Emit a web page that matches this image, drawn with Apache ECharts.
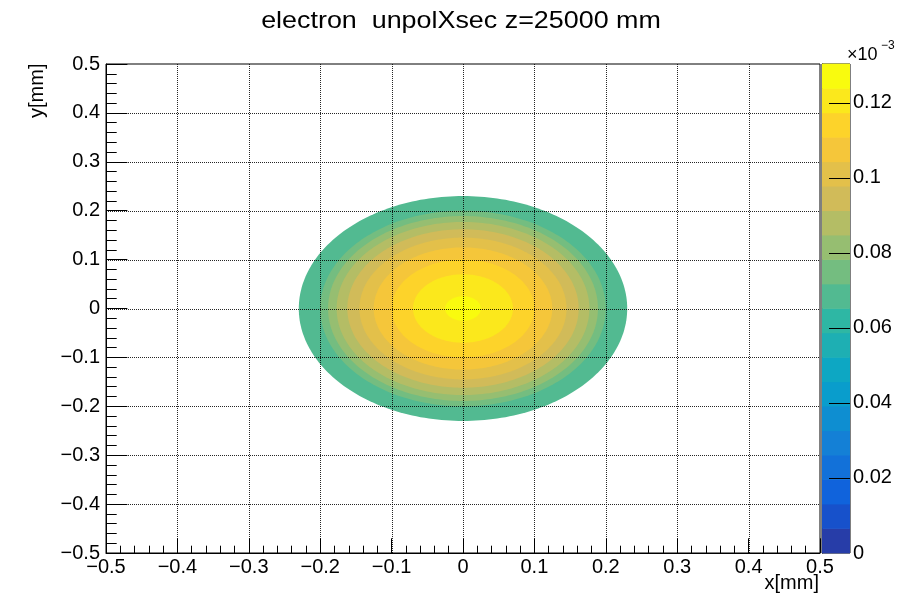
<!DOCTYPE html>
<html>
<head>
<meta charset="utf-8">
<script src="https://cdn.jsdelivr.net/npm/echarts@6/dist/echarts.min.js"></script>
<style>
  html, body { margin: 0; padding: 0; background: #fff; }
  #chart { width: 917px; height: 598px; }
</style>
</head>
<body>
<div id="chart"></div>
<script>
// Beam spot: concentric contour levels of the unpolarized cross section (units of 1e-3),
// each level a disk of the given radius in mm, outermost first.
const ringRadius = [0.230, 0.200, 0.189, 0.177, 0.162, 0.145, 0.125, 0.100, 0.070, 0.025];
const ringValue  = [0.068, 0.075, 0.081, 0.088, 0.094, 0.101, 0.107, 0.114, 0.120, 0.127];

// Axis ranges, grid-line positions and colour scale
const xRange = [-0.5, 0.5];
const yRange = [-0.5, 0.5];
const axisStep = 0.1;
const gridTicks = [-0.4, -0.3, -0.2, -0.1, 0, 0.1, 0.2, 0.3, 0.4];
const zMax = 0.1303;
const zStep = 0.02;
const zTicks = [0.02, 0.04, 0.06, 0.08, 0.10, 0.12];
const nLevels = 20;

const FONT = "'Liberation Sans', Arial, Helvetica, sans-serif";

// ROOT "kBird" palette, sampled the way COLZ picks a colour per contour level
const birdStops = [0.0, 0.125, 0.25, 0.375, 0.5, 0.625, 0.75, 0.875, 1.0];
const birdR = [0.2082, 0.0592, 0.0780, 0.0232, 0.1802, 0.5301, 0.8186, 0.9956, 0.9764];
const birdG = [0.1664, 0.3599, 0.5041, 0.6419, 0.7178, 0.7492, 0.7328, 0.7862, 0.9832];
const birdB = [0.5293, 0.8684, 0.8385, 0.7914, 0.6425, 0.4662, 0.3499, 0.1968, 0.0539];
function birdColor(f) {
  let k = 0;
  while (k < birdStops.length - 2 && f > birdStops[k + 1]) k++;
  const t = (f - birdStops[k]) / (birdStops[k + 1] - birdStops[k]);
  const c = arr => Math.round(255 * (arr[k] + t * (arr[k + 1] - arr[k])));
  return 'rgb(' + c(birdR) + ',' + c(birdG) + ',' + c(birdB) + ')';
}
const levelWidth = zMax / nLevels;
const pieces = [];
for (let i = 0; i < nLevels; i++) {
  const idx = Math.floor((i + 0.99) * 255 / nLevels);
  const p = { gte: i * levelWidth, color: birdColor(idx / 254) };
  if (i < nLevels - 1) p.lt = (i + 1) * levelWidth; else p.lte = zMax * 1.001;
  pieces.push(p);
}

// Colour-bar blocks: [low, high, mid] of each level
const barBlocks = [];
for (let i = 0; i < nLevels; i++) {
  barBlocks.push([i * levelWidth, (i + 1) * levelWidth, (i + 0.5) * levelWidth]);
}

const ringData = ringRadius.map((r, i) => [r, ringValue[i]]);

const fmtAxis = v => String(Math.round(v * 10) / 10).replace('-', '\u2212');
const fmtZ = v => String(parseFloat(v.toFixed(3)));

const labelStyle = { color: '#000', fontSize: 20, fontFamily: FONT };
const DOT = '#000';

const chart = echarts.init(document.getElementById('chart'), null, { renderer: 'canvas' });

chart.setOption({
  animation: false,
  backgroundColor: '#fff',
  grid: [
    { left: 106, top: 64, width: 714, height: 489, show: true, borderColor: '#000', borderWidth: 1, backgroundColor: 'transparent' },
    { left: 822, top: 64, width: 28, height: 489, show: true, borderColor: '#000', borderWidth: 1, backgroundColor: 'transparent' }
  ],
  xAxis: [
    {
      gridIndex: 0, type: 'value', min: xRange[0], max: xRange[1], interval: axisStep,
      axisLine: { show: true, onZero: false, lineStyle: { color: '#000', width: 1 } },
      axisTick: { show: true, inside: true, length: 14.7, lineStyle: { color: '#000' } },
      minorTick: { show: true, splitNumber: 5, length: 7.3, lineStyle: { color: '#000' } },
      axisLabel: Object.assign({ margin: 4, formatter: fmtAxis }, labelStyle),
      splitLine: { show: false }
    },
    { gridIndex: 1, type: 'value', min: 0, max: 1, show: false }
  ],
  yAxis: [
    {
      gridIndex: 0, type: 'value', min: yRange[0], max: yRange[1], interval: axisStep,
      axisLine: { show: true, onZero: false, lineStyle: { color: '#000', width: 1 } },
      axisTick: { show: true, inside: true, length: 21.4, lineStyle: { color: '#000' } },
      minorTick: { show: true, splitNumber: 5, length: 10.7, lineStyle: { color: '#000' } },
      axisLabel: Object.assign({ margin: 6, formatter: fmtAxis }, labelStyle),
      splitLine: { show: false }
    },
    {
      gridIndex: 1, type: 'value', min: 0, max: zMax, interval: zStep, position: 'right',
      axisLine: { show: true, lineStyle: { color: '#000', width: 1 } },
      axisTick: { show: false },
      axisLabel: Object.assign({ margin: 3, formatter: fmtZ, showMaxLabel: false }, labelStyle),
      splitLine: { show: false }
    }
  ],
  visualMap: [
    { type: 'piecewise', show: false, seriesIndex: 0, dimension: 1, pieces: pieces },
    { type: 'piecewise', show: false, seriesIndex: 2, dimension: 2, pieces: pieces }
  ],
  series: [
    {
      name: 'unpolXsec',
      type: 'custom',
      z: 2,
      xAxisIndex: 0, yAxisIndex: 0,
      data: ringData,
      encode: { x: 0 },
      renderItem: function (params, api) {
        const r = api.value(0);
        const pts = [];
        const n = 240;
        for (let k = 0; k < n; k++) {
          const a = 2 * Math.PI * k / n;
          pts.push(api.coord([r * Math.cos(a), r * Math.sin(a)]));
        }
        return { type: 'polygon', shape: { points: pts }, style: { fill: api.visual('color') } };
      }
    },
    {
      // dotted grid drawn over the map
      name: 'grid',
      type: 'custom',
      z: 6,
      xAxisIndex: 0, yAxisIndex: 0,
      data: gridTicks.map(v => [v, v]),
      silent: true,
      renderItem: function (params, api) {
        const v = api.value(0);
        const a = api.coord([v, yRange[0]]);
        const b = api.coord([v, yRange[1]]);
        const c = api.coord([xRange[0], v]);
        const d = api.coord([xRange[1], v]);
        const x = Math.round(a[0]) + 0.5;
        const y = Math.round(c[1]) + 0.5;
        const st = { stroke: DOT, opacity: 0.85, lineWidth: 1, lineDash: [1, 1], fill: null };
        return {
          type: 'group',
          children: [
            { type: 'line', z2: 10, shape: { x1: x, y1: a[1], x2: x, y2: b[1] }, style: st },
            { type: 'line', z2: 10, shape: { x1: c[0], y1: y, x2: d[0], y2: y }, style: st }
          ]
        };
      }
    },
    {
      name: 'palette',
      type: 'custom',
      z: 2,
      xAxisIndex: 1, yAxisIndex: 1,
      data: barBlocks,
      encode: { y: [0, 1] },
      renderItem: function (params, api) {
        const p0 = api.coord([0, api.value(0)]);
        const p1 = api.coord([1, api.value(1)]);
        return {
          type: 'rect',
          shape: { x: p0[0], y: p1[1] - 0.3, width: p1[0] - p0[0], height: p0[1] - p1[1] + 0.6 },
          style: { fill: api.visual('color') }
        };
      }
    },
    {
      // palette axis ticks
      name: 'paletteTicks',
      type: 'custom',
      z: 6,
      xAxisIndex: 1, yAxisIndex: 1,
      data: zTicks.map(v => [1, v]),
      silent: true,
      renderItem: function (params, api) {
        const p = api.coord([1, api.value(1)]);
        const y = Math.round(p[1]) + 0.5;
        return { type: 'line', shape: { x1: p[0] - 21, y1: y, x2: p[0], y2: y }, style: { stroke: '#000', lineWidth: 1 } };
      }
    }
  ],
  graphic: [
    {
      type: 'text', x: 461, y: 21, scaleX: 1.12,
      style: { text: 'electron  unpolXsec z=25000 mm', fill: '#000', fontSize: 24, fontFamily: FONT, textAlign: 'center', textVerticalAlign: 'middle' }
    },
    {
      type: 'text', x: 37, y: 118, rotation: Math.PI / 2,
      style: { text: 'y[mm]', fill: '#000', fontSize: 20, fontFamily: FONT, textAlign: 'left', textVerticalAlign: 'middle' }
    },
    {
      type: 'text', x: 819, y: 583,
      style: { text: 'x[mm]', fill: '#000', fontSize: 20, fontFamily: FONT, textAlign: 'right', textVerticalAlign: 'middle' }
    },
    {
      type: 'text', x: 847, y: 55,
      style: { text: '\u00d710', fill: '#000', fontSize: 18, fontFamily: FONT, textAlign: 'left', textVerticalAlign: 'middle' }
    },
    {
      type: 'text', x: 881, y: 46,
      style: { text: '\u22123', fill: '#000', fontSize: 12, fontFamily: FONT, textAlign: 'left', textVerticalAlign: 'middle' }
    }
  ]
});
</script>
</body>
</html>
